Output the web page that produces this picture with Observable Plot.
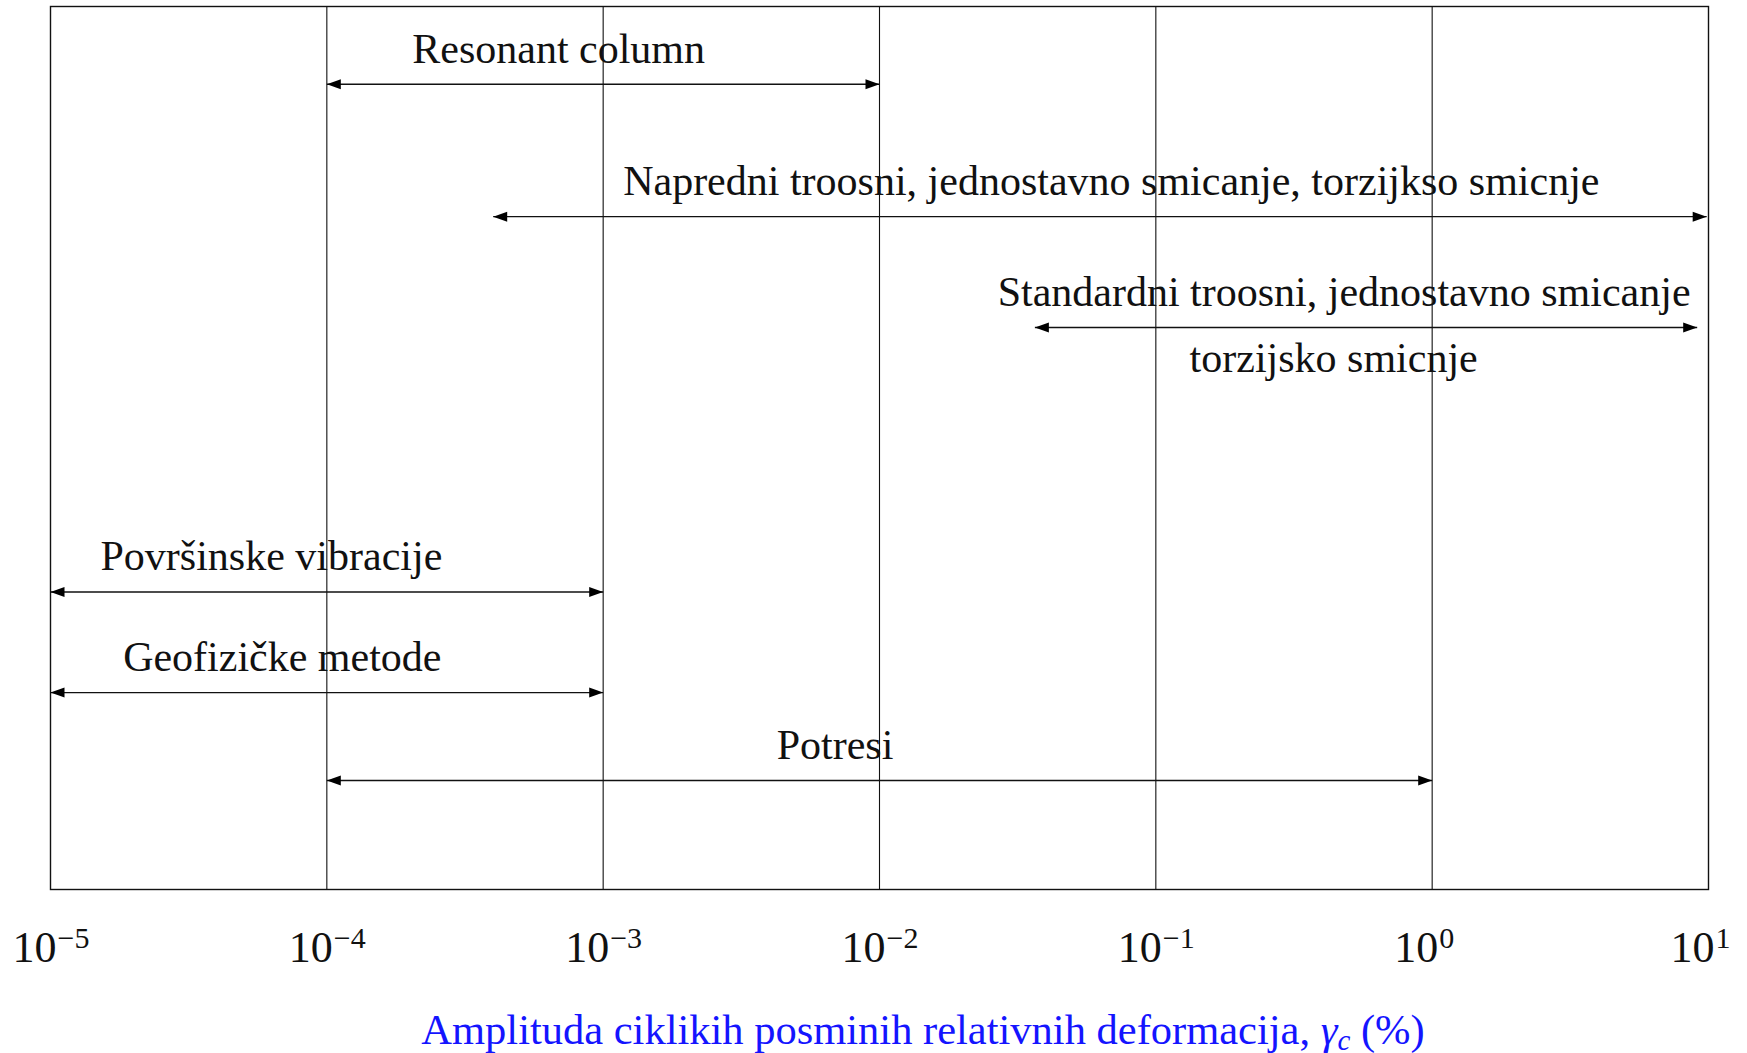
<!DOCTYPE html>
<html>
<head>
<meta charset="utf-8">
<script src="https://cdn.jsdelivr.net/npm/d3@7"></script>
<script src="https://cdn.jsdelivr.net/npm/@observablehq/plot@0.6"></script>
<style>
  html, body { margin: 0; padding: 0; background: #fff; }
  #wrap { position: relative; width: 1747px; height: 1053px; }
  #wrap svg { position: absolute; left: 0; top: 0; overflow: visible; }
  #xlabel {
    position: absolute; left: 923px; top: 1009px; transform: translateX(-50%);
    font-family: "Liberation Serif", serif; font-size: 42.5px; line-height: 42.5px;
    color: #1414ff; white-space: nowrap;
  }
  #xlabel sub { font-size: 29px; vertical-align: -6px; line-height: 0; }
</style>
</head>
<body>
<div id="wrap"><div id="xlabel">Amplituda ciklikih posminih relativnih deformacija, <i>γ</i><sub><i>c</i></sub> (%)</div></div>
<script>
// ---- data ----
const methods = [
  "Resonant column",
  "Napredni troosni, jednostavno smicanje, torzijkso smicnje",
  "Standardni troosni, jednostavno smicanje",
  "Površinske vibracije",
  "Geofizičke metode",
  "Potresi"
];
const strainMin = [1e-4, 4e-4, 0.0365, 1e-5, 1e-5, 1e-4];
const strainMax = [1e-2, 9.85, 9.1, 1e-3, 1e-3, 1];
const rowLevel  = [91.2, 76.2, 63.65, 33.7, 22.3, 12.35];
const labelAt   = [6.9e-4, 0.069, 0.48, 6.3e-5, 6.9e-5, 6.9e-3];
const secondLine   = ["", "", "torzijsko smicnje", "", "", ""];
const secondLineAt = [null, null, 0.44, null, null, null];

const tickValues    = [1e-5, 1e-4, 1e-3, 1e-2, 1e-1, 1, 10];
const tickExponents = ["−5", "−4", "−3", "−2", "−1", "0", "1"];
const gridValues    = [1e-4, 1e-3, 1e-2, 1e-1, 1];

const rows = methods.map((m, i) => ({
  method: m, x1: strainMin[i], x2: strainMax[i], level: rowLevel[i],
  lx: labelAt[i], second: secondLine[i], sx: secondLineAt[i]
}));

// arrowhead symbols (tip at origin)
const headRight = { draw(ctx) { ctx.moveTo(0, 0); ctx.lineTo(-14, -5); ctx.lineTo(-14, 5); ctx.closePath(); } };
const headLeft  = { draw(ctx) { ctx.moveTo(0, 0); ctx.lineTo(14, -5); ctx.lineTo(14, 5); ctx.closePath(); } };

const font = "Liberation Serif, serif";
const expOf = new Map(tickValues.map((v, i) => [v, tickExponents[i]]));

const chart = Plot.plot({
  width: 1747,
  height: 1000,
  marginTop: 6,
  marginRight: 39,
  marginBottom: 111,
  marginLeft: 50,
  style: { fontFamily: font, background: "white" },
  x: { type: "log", domain: [1e-5, 10], axis: null },
  y: { domain: [0, 100], axis: null },
  marks: [
    Plot.ruleX(gridValues, { stroke: "#111", strokeWidth: 1.1 }),
    Plot.frame({ stroke: "#111", strokeWidth: 1.4 }),
    Plot.link(rows, { x1: "x1", x2: "x2", y1: "level", y2: "level", stroke: "#111", strokeWidth: 1.4 }),
    Plot.dot(rows, { x: "x1", y: "level", symbol: headLeft, fill: "#000", stroke: "none" }),
    Plot.dot(rows, { x: "x2", y: "level", symbol: headRight, fill: "#000", stroke: "none" }),
    Plot.text(rows, { x: "lx", y: "level", text: "method", dy: -35, fontSize: 42, fill: "#111", lineAnchor: "middle", textAnchor: "middle" }),
    Plot.text(rows.filter(d => d.second), { x: "sx", y: "level", text: "second", dy: 31, fontSize: 42, fill: "#111", lineAnchor: "middle", textAnchor: "middle" }),
    Plot.axisX(tickValues, { tickSize: 0, tickPadding: 58, tickFormat: () => "10", textAnchor: "end", dx: 6, fontSize: 44, lineAnchor: "middle", fill: "#111" }),
    Plot.axisX(tickValues, { tickSize: 0, tickPadding: 49, tickFormat: v => expOf.get(v), textAnchor: "start", dx: 7, fontSize: 30, lineAnchor: "middle", fill: "#111" })
  ]
});
document.getElementById("wrap").prepend(chart);
</script>
</body>
</html>
